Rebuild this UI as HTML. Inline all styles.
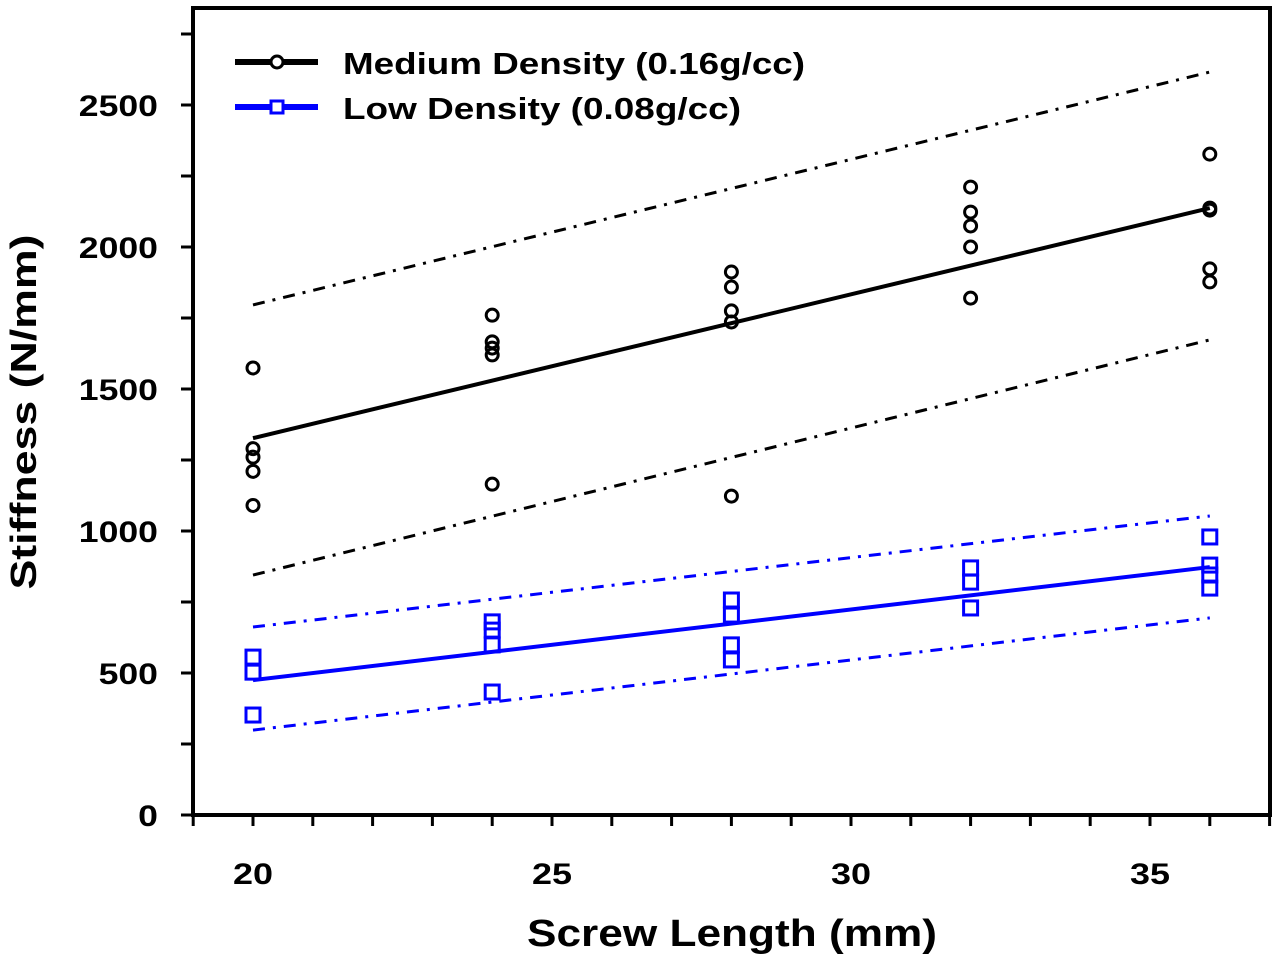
<!DOCTYPE html>
<html><head><meta charset="utf-8"><style>
body{margin:0;background:#fff}
svg{display:block;font-family:"Liberation Sans",Arial,sans-serif;font-weight:bold}
</style></head><body>
<svg id="chart" width="1280" height="958" viewBox="0 0 1280 958">
<rect x="193" y="8" width="1077" height="807" fill="none" stroke="#000" stroke-width="4"/>
<g id="axes"></g>
<g id="marks"></g>
<g>
<line x1="235" y1="62" x2="318" y2="62" stroke="#000" stroke-width="6"/>
<circle cx="277" cy="62" r="6" fill="#fff" stroke="#000" stroke-width="3"/>
<text x="343" y="74" font-size="31" textLength="462" lengthAdjust="spacingAndGlyphs">Medium Density (0.16g/cc)</text>
<line x1="235" y1="107" x2="318" y2="107" stroke="#00f" stroke-width="6"/>
<rect x="271" y="101" width="12" height="12" fill="#fff" stroke="#00f" stroke-width="3"/>
<text x="343" y="119" font-size="31" textLength="398" lengthAdjust="spacingAndGlyphs">Low Density (0.08g/cc)</text>
</g>
<text transform="translate(36,412) rotate(-90)" text-anchor="middle" font-size="36" textLength="355" lengthAdjust="spacingAndGlyphs">Stiffness (N/mm)</text>
<text x="732" y="946" text-anchor="middle" font-size="38" textLength="410" lengthAdjust="spacingAndGlyphs">Screw Length (mm)</text>
</svg>
<script>
const xTicks=[20,25,30,35];
const yTicks=[0,500,1000,1500,2000,2500];
const medX=[20,20,20,20,20,24,24,24,24,24,28,28,28,28,28,32,32,32,32,32,36,36,36,36,36];
const medY=[1574,1290,1260,1210,1090,1760,1666,1644,1620,1165,1912,1859,1775,1736,1123,2211,2123,2074,2000,1820,2327,2137,2130,1923,1877];
const lowX=[20,20,20,24,24,24,24,28,28,28,28,32,32,32,36,36,36,36];
const lowY=[556,503,352,680,651,599,433,757,704,599,546,870,820,729,979,880,845,799];
const fitX=[20,36];
const medFit=[1327,2137];
const medUpper=[1796,2616];
const medLower=[845,1673];
const lowFit=[475,873];
const lowUpper=[662,1053];
const lowLower=[299,694];
const NS='http://www.w3.org/2000/svg';
const sx=v=>253+(v-20)*59.8;
const sy=v=>815-v*0.284;
const axes=document.getElementById('axes'),marks=document.getElementById('marks');
function mk(t,p,a){const e=document.createElementNS(NS,t);for(const k in a)e.setAttribute(k,a[k]);p.appendChild(e);return e;}
for(let v=0;v<=2750;v+=250){
 const l=mk('line',axes,{x1:181,x2:193,y1:sy(v),y2:sy(v),stroke:'#000','stroke-width':3});
 
 
}
yTicks.forEach(v=>{
 const s=String(v);
 const t=mk('text',axes,{x:158,y:sy(v)+11,'text-anchor':'end','font-size':30,textLength:s.length*19.8,lengthAdjust:'spacingAndGlyphs'});
 
 
 t.textContent=s;
});
for(let v=19;v<=37;v++){
 const l=mk('line',axes,{x1:sx(v),x2:sx(v),y1:815,y2:826,stroke:'#000','stroke-width':3});
 
 
}
xTicks.forEach(v=>{
 const t=mk('text',axes,{x:sx(v),y:884,'text-anchor':'middle','font-size':30,textLength:40,lengthAdjust:'spacingAndGlyphs'});
 
 
 t.textContent=v;
});
function line(ys,color,dash,name,w){
 const l=mk('line',marks,{x1:sx(fitX[0]),y1:sy(ys[0]),x2:sx(fitX[1]),y2:sy(ys[1]),stroke:color,'stroke-width':w});
 if(dash)l.setAttribute('stroke-dasharray','12 8 3 8');
 
 
}
line(medFit,'#000',false,'medium-fit-line',4);
line(medUpper,'#000',true,'medium-upper-ci',3);
line(medLower,'#000',true,'medium-lower-ci',3);
line(lowFit,'#00f',false,'low-fit-line',4);
line(lowUpper,'#00f',true,'low-upper-ci',3);
line(lowLower,'#00f',true,'low-lower-ci',3);
medX.forEach((x,i)=>{
 const c=mk('circle',marks,{cx:sx(x),cy:sy(medY[i]),r:6,fill:'none',stroke:'#000','stroke-width':3});
 
 
});
lowX.forEach((x,i)=>{
 const r=mk('rect',marks,{x:sx(x)-7,y:sy(lowY[i])-7,width:14,height:14,fill:'none',stroke:'#00f','stroke-width':3});
 
 
});
</script>
</body></html>
